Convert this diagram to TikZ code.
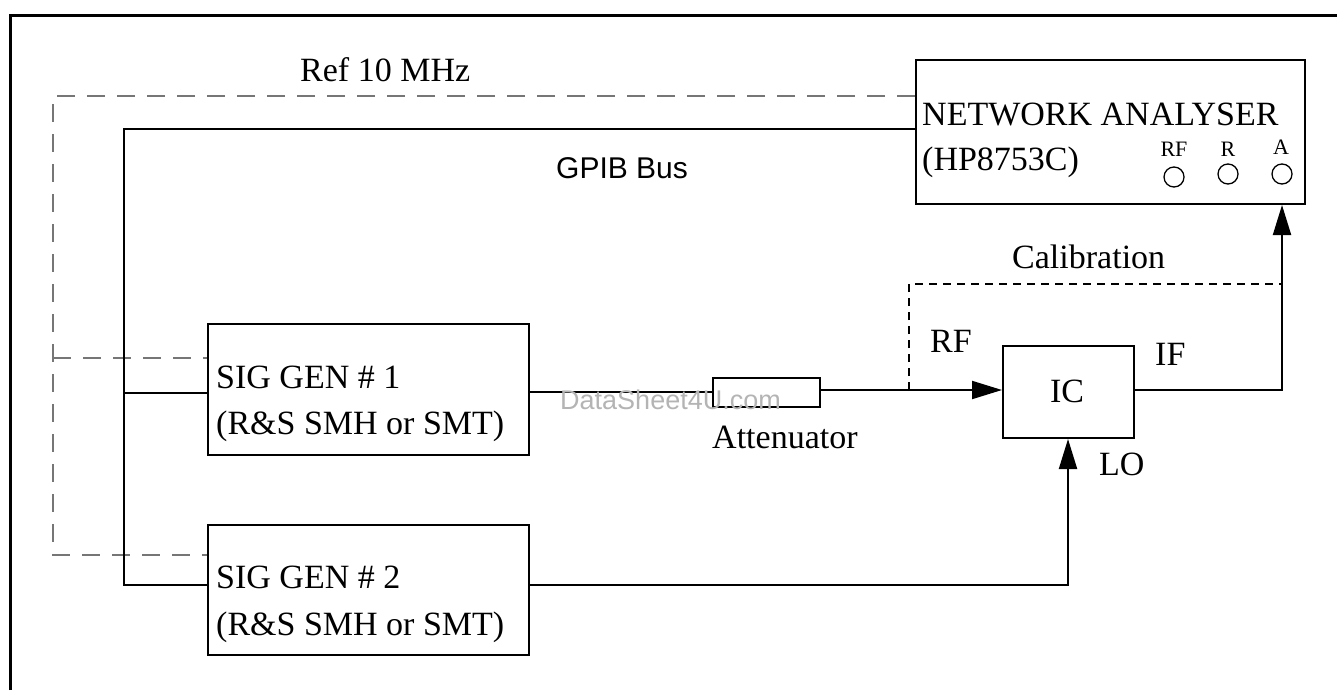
\documentclass[tikz,border=0pt]{standalone}
\usepackage{fontspec}
\setmainfont{Liberation Serif}
\newfontfamily\wmfont{Liberation Sans}
\usetikzlibrary{arrows.meta}
\definecolor{refgray}{RGB}{118,118,118}
\definecolor{wmgray}{RGB}{180,180,180}
\begin{document}
\begin{tikzpicture}[x=1pt,y=-1pt,
  unitbox/.style={draw, line width=2pt, rectangle, anchor=north west, inner sep=0pt},
  lbl/.style={anchor=base west, inner sep=0pt, font=\fontsize{34}{40}\selectfont},
  portlbl/.style={anchor=base, inner sep=0pt, font=\fontsize{22}{26}\selectfont},
  port/.style={draw, circle, line width=1.3pt, minimum size=20pt, inner sep=0pt},
  wire/.style={line width=2pt},
  sigarrow/.style={wire, -{Triangle[length=30pt,width=18pt]}},
  refline/.style={draw=refgray, line width=1.8pt, dash pattern=on 18pt off 12pt},
  calline/.style={line width=1.3pt, dash pattern=on 8pt off 6pt}]

\useasboundingbox (0,0) rectangle (1337,690);

% outer frame
\draw[line width=3pt] (10,690) -- (10,16) -- (1337,16);

% instruments
\node[unitbox, minimum width=389pt, minimum height=144pt] (na)  at (915,59)  {};
\node[unitbox, minimum width=321pt, minimum height=131pt] (sg1) at (207,323) {};
\node[unitbox, minimum width=321pt, minimum height=130pt] (sg2) at (207,524) {};
\node[unitbox, minimum width=107pt, minimum height=29pt]  (att) at (712,377) {};
\node[unitbox, minimum width=131pt, minimum height=92pt]  (ic)  at (1002,345) {};

% instrument texts
\node[lbl] (natxt1) at (922,125) {NETWORK ANALYSER};
\node[lbl] (natxt2) at (922,170) {(HP8753C)};
\node[lbl] (sg1txt1) at (216,388) {SIG GEN \# 1};
\node[lbl] (sg1txt2) at (216,434) {(R\&S SMH or SMT)};
\node[lbl] (sg2txt1) at (216,588) {SIG GEN \# 2};
\node[lbl] (sg2txt2) at (216,635) {(R\&S SMH or SMT)};
\node[lbl, anchor=base] (ictxt) at (1067,402) {IC};

% analyser ports
\node[port] (prf) at (1174,177) {};
\node[port] (pr)  at (1228,174) {};
\node[port] (pa)  at (1282,174) {};
\node[portlbl] (prflbl) at (1174,156) {RF};
\node[portlbl] (prlbl)  at (1228,156) {R};
\node[portlbl] (palbl)  at (1281,154) {A};

% reference 10 MHz distribution
\coordinate (refTL) at (53,96);
\coordinate (refM)  at (53,358);
\coordinate (refBL) at (53,555);
\draw[refline] (na.west |- refTL) -- (refTL) -- (refBL) -- (sg2.west |- refBL);
\draw[refline] (refM) -- (sg1.west |- refM);

% GPIB bus
\coordinate (busTL) at (124,129);
\coordinate (busM)  at (124,393);
\coordinate (busBL) at (124,585);
\draw[wire] (na.west |- busTL) -- (busTL) -- (busBL) -- (sg2.west |- busBL);
\draw[wire] (busM) -- (sg1.west |- busM);

% RF path
\coordinate (rfL) at (0,392);
\coordinate (rfR) at (0,390);
\draw[wire] (sg1.east |- rfL) -- (att.west |- rfL);
\draw[sigarrow] (att.east |- rfR) -- (ic.west |- rfR);

% calibration path
\coordinate (calB) at (909,390);
\coordinate (calT) at (909,284);
\coordinate (ifC)  at (1282,390);
\draw[calline] (calB) -- (calT) -- (ifC |- calT);

% IF path to analyser port A
\draw[sigarrow] (ic.east |- rfR) -- (ifC) -- (na.south -| pa);

% LO path
\coordinate (loC) at (1068,585);
\draw[sigarrow] (sg2.east |- loC) -- (loC) -- (loC |- ic.south);

% labels
\node[lbl] (reflbl) at (300,82) {Ref 10 MHz};
\node[lbl, font=\wmfont\fontsize{30}{36}\selectfont] (buslbl) at (556,178) {GPIB Bus};
\node[lbl] (attlbl) at (712,448) {Attenuator};
\node[lbl] (callbl) at (1012,268) {Calibration};
\node[lbl] (rflbl)  at (930,352) {RF};
\node[lbl] (iflbl)  at (1155,365) {IF};
\node[lbl] (lolbl)  at (1099,475) {LO};
\node[anchor=base west, inner sep=0pt, text=wmgray, font=\wmfont\fontsize{27}{32}\selectfont] (wm) at (560,409) {DataSheet4U.com};

\end{tikzpicture}
\end{document}
